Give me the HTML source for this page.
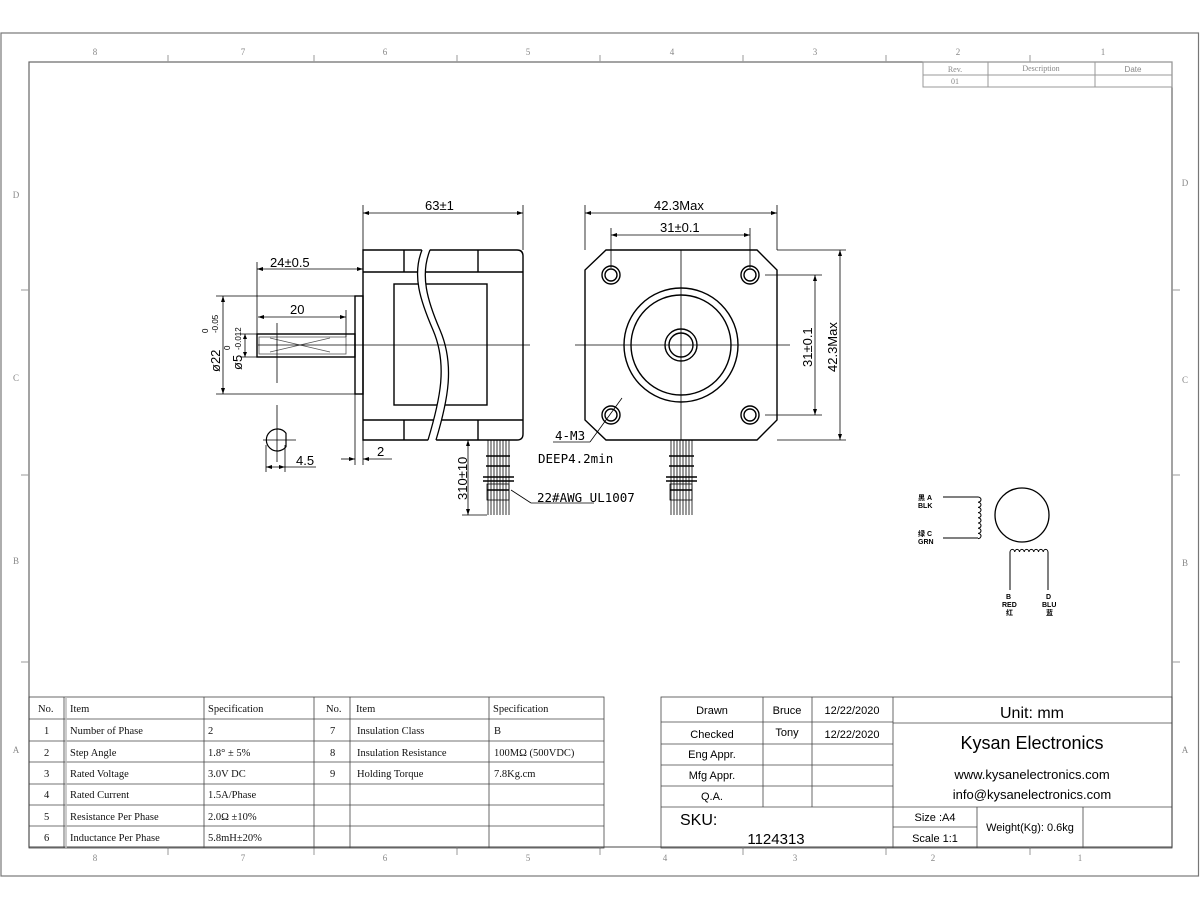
<!DOCTYPE html>
<html><head><meta charset="utf-8"><style>
html,body{margin:0;padding:0;background:#fff;}
svg{display:block;}
text{font-family:"Liberation Sans","Noto Sans CJK SC",sans-serif;}
.s text, text.s{font-family:"Liberation Serif","Noto Serif CJK SC",serif;}
.m text{font-family:"DejaVu Sans Mono","Liberation Mono",monospace;}
</style></head><body>
<svg width="1200" height="910" viewBox="0 0 1200 910" xmlns="http://www.w3.org/2000/svg">
<rect x="0" y="0" width="1200" height="910" fill="#fff"/>
<!-- frames -->
<rect x="1" y="33" width="1197.5" height="843" fill="none" stroke="#777" stroke-width="1.2"/>
<rect x="29" y="62" width="1143" height="785" fill="none" stroke="#666" stroke-width="1.2"/>
<g stroke="#999" stroke-width="1">
<line x1="168" y1="55" x2="168" y2="62"/><line x1="314" y1="55" x2="314" y2="62"/><line x1="457" y1="55" x2="457" y2="62"/><line x1="600" y1="55" x2="600" y2="62"/><line x1="743" y1="55" x2="743" y2="62"/><line x1="886" y1="55" x2="886" y2="62"/><line x1="1030" y1="55" x2="1030" y2="62"/>
<line x1="168" y1="847" x2="168" y2="855"/><line x1="314" y1="847" x2="314" y2="855"/><line x1="457" y1="847" x2="457" y2="855"/><line x1="600" y1="847" x2="600" y2="855"/><line x1="743" y1="847" x2="743" y2="855"/><line x1="886" y1="847" x2="886" y2="855"/><line x1="1030" y1="847" x2="1030" y2="855"/>
<line x1="21" y1="290" x2="29" y2="290"/><line x1="21" y1="475" x2="29" y2="475"/><line x1="21" y1="662" x2="29" y2="662"/>
<line x1="1172" y1="290" x2="1180" y2="290"/><line x1="1172" y1="475" x2="1180" y2="475"/><line x1="1172" y1="662" x2="1180" y2="662"/>
</g>
<g class="s" font-size="9" fill="#888" text-anchor="middle">
<text x="95" y="55">8</text><text x="243" y="55">7</text><text x="385" y="55">6</text><text x="528" y="55">5</text><text x="672" y="55">4</text><text x="815" y="55">3</text><text x="958" y="55">2</text><text x="1103" y="55">1</text>
<text x="95" y="861">8</text><text x="243" y="861">7</text><text x="385" y="861">6</text><text x="528" y="861">5</text><text x="665" y="861">4</text><text x="795" y="861">3</text><text x="933" y="861">2</text><text x="1080" y="861">1</text>
<text x="16" y="198">D</text><text x="16" y="381">C</text><text x="16" y="564">B</text><text x="16" y="753">A</text>
<text x="1185" y="186">D</text><text x="1185" y="383">C</text><text x="1185" y="566">B</text><text x="1185" y="753">A</text>
</g>
<!-- rev table -->
<g stroke="#999" stroke-width="1" fill="none">
<rect x="923" y="62" width="249" height="25"/><line x1="923" y1="75" x2="1172" y2="75"/>
<line x1="988" y1="62" x2="988" y2="87"/><line x1="1095" y1="62" x2="1095" y2="87"/>
</g>
<g font-size="8" fill="#888" text-anchor="middle"><text class="s" x="955" y="72">Rev.</text><text class="s" x="1041" y="71">Description</text><text x="1133" y="72">Date</text><text class="s" x="955" y="84">01</text></g>

<!-- SIDE VIEW -->
<g stroke="#000" stroke-width="1.4" fill="none">
<path d="M363 250 H517 Q523 250 523 256 V434 Q523 440 517 440 H363 Z"/>
<line x1="404" y1="250" x2="404" y2="272"/><line x1="404" y1="420" x2="404" y2="440"/>
<line x1="478" y1="250" x2="478" y2="272"/><line x1="478" y1="420" x2="478" y2="440"/>
<line x1="363" y1="272" x2="404" y2="272"/><line x1="478" y1="272" x2="523" y2="272"/>
<line x1="363" y1="420" x2="404" y2="420"/><line x1="478" y1="420" x2="523" y2="420"/>
<line x1="404" y1="272" x2="478" y2="272"/><line x1="404" y1="420" x2="478" y2="420"/>
<rect x="394" y="284" width="93" height="121"/>
<rect x="355" y="296" width="8" height="98"/>
<rect x="257" y="334" width="98" height="23"/>
</g>
<path d="M422 249 C412 275 420 300 433 330 C448 365 440 400 428 441 L436 441 C448 400 455 365 440 330 C427 300 420 275 430 249 Z" fill="#fff" stroke="none"/>
<g stroke="#000" stroke-width="1.3" fill="none">
<path d="M422 250 C412 275 420 300 433 330 C448 365 440 400 428 440"/>
<path d="M430 250 C420 275 427 300 440 330 C455 365 448 400 436 440"/>
</g>
<g stroke="#555" stroke-width="0.8" fill="none">
<rect x="259" y="337" width="87" height="17"/>
<path d="M270 338 L330 352 M270 352 L330 338"/>
</g>
<g stroke="#000" stroke-width="0.8" fill="none">
<line x1="258" y1="345" x2="530" y2="345"/>
<line x1="277" y1="323" x2="277" y2="383"/><line x1="277" y1="405" x2="277" y2="462"/>
<line x1="363" y1="205" x2="363" y2="250"/><line x1="523" y1="205" x2="523" y2="250"/>
<line x1="363" y1="213" x2="523" y2="213"/>
<line x1="257" y1="262" x2="257" y2="334"/><line x1="257" y1="269" x2="363" y2="269"/>
<line x1="258" y1="317" x2="346" y2="317"/><line x1="346" y1="310" x2="346" y2="337"/>
<line x1="216" y1="296" x2="355" y2="296"/><line x1="216" y1="394" x2="355" y2="394"/>
<line x1="223" y1="296" x2="223" y2="394"/>
<line x1="240" y1="334" x2="257" y2="334"/><line x1="240" y1="357" x2="257" y2="357"/>
<line x1="245" y1="334" x2="245" y2="357"/>
<line x1="355" y1="394" x2="355" y2="465"/><line x1="363" y1="440" x2="363" y2="465"/>
<line x1="341" y1="459" x2="355" y2="459"/><line x1="363" y1="459" x2="392" y2="459"/>
<line x1="263" y1="440" x2="296" y2="440"/>
<line x1="266" y1="445" x2="266" y2="472"/><line x1="285" y1="445" x2="285" y2="472"/>
<line x1="266" y1="467" x2="316" y2="467"/>
<line x1="462" y1="440" x2="487" y2="440"/><line x1="462" y1="515" x2="487" y2="515"/>
<line x1="468" y1="440" x2="468" y2="515"/>
</g>
<path d="M286 433.2 A11 11 0 1 0 286 446.8 Z" fill="none" stroke="#000" stroke-width="1.2"/>
<!-- leads side -->
<g stroke="#000" stroke-width="0.8">
<line x1="488" y1="440" x2="488" y2="515"/><line x1="491" y1="440" x2="491" y2="515"/>
<line x1="494" y1="440" x2="494" y2="515"/><line x1="497" y1="440" x2="497" y2="515"/>
<line x1="500" y1="440" x2="500" y2="515"/><line x1="503" y1="440" x2="503" y2="515"/>
<line x1="506" y1="440" x2="506" y2="515"/><line x1="509" y1="440" x2="509" y2="515"/>
<line x1="486" y1="456" x2="510" y2="456" stroke-width="1.5"/><line x1="486" y1="466" x2="510" y2="466" stroke-width="1.5"/>
<line x1="483" y1="477" x2="514" y2="477" stroke-width="1.5"/><line x1="483" y1="481" x2="514" y2="481" stroke-width="1.5"/>
<rect x="487" y="484" width="22" height="16" fill="none"/><line x1="487" y1="490" x2="509" y2="490" stroke-width="1.4"/>
<line x1="511" y1="490" x2="531" y2="503"/><line x1="531" y1="503" x2="594" y2="503"/>
</g>
<!-- FRONT VIEW -->
<g stroke="#000" stroke-width="1.4" fill="none">
<path d="M606 250 H757 L777 270 V420 L757 440 H606 L585 420 V270 Z"/>
<circle cx="681" cy="345" r="57"/><circle cx="681" cy="345" r="50"/>
<circle cx="681" cy="345" r="16"/><circle cx="681" cy="345" r="12"/>
<circle cx="611" cy="275" r="9"/><circle cx="611" cy="275" r="6"/>
<circle cx="750" cy="275" r="9"/><circle cx="750" cy="275" r="6"/>
<circle cx="611" cy="415" r="9"/><circle cx="611" cy="415" r="6"/>
<circle cx="750" cy="415" r="9"/><circle cx="750" cy="415" r="6"/>
</g>
<g stroke="#000" stroke-width="0.8" fill="none">
<line x1="681" y1="250" x2="681" y2="440"/><line x1="575" y1="345" x2="790" y2="345"/>
<line x1="585" y1="205" x2="585" y2="250"/><line x1="777" y1="205" x2="777" y2="250"/>
<line x1="585" y1="213" x2="777" y2="213"/>
<line x1="611" y1="228" x2="611" y2="268"/><line x1="750" y1="228" x2="750" y2="268"/>
<line x1="611" y1="235" x2="750" y2="235"/>
<line x1="765" y1="275" x2="822" y2="275"/><line x1="765" y1="415" x2="822" y2="415"/>
<line x1="815" y1="275" x2="815" y2="415"/>
<line x1="777" y1="250" x2="846" y2="250"/><line x1="777" y1="440" x2="846" y2="440"/>
<line x1="840" y1="250" x2="840" y2="440"/>
<line x1="622" y1="398" x2="590" y2="442"/><line x1="590" y1="442" x2="553" y2="442"/>
</g>
<g stroke="#000" stroke-width="0.8">
<line x1="671" y1="440" x2="671" y2="515"/><line x1="674" y1="440" x2="674" y2="515"/>
<line x1="677" y1="440" x2="677" y2="515"/><line x1="680" y1="440" x2="680" y2="515"/>
<line x1="683" y1="440" x2="683" y2="515"/><line x1="686" y1="440" x2="686" y2="515"/>
<line x1="689" y1="440" x2="689" y2="515"/><line x1="692" y1="440" x2="692" y2="515"/>
<line x1="669" y1="456" x2="694" y2="456" stroke-width="1.5"/><line x1="669" y1="466" x2="694" y2="466" stroke-width="1.5"/>
<line x1="666" y1="477" x2="697" y2="477" stroke-width="1.5"/><line x1="666" y1="481" x2="697" y2="481" stroke-width="1.5"/>
<rect x="670" y="484" width="22" height="16" fill="none"/><line x1="670" y1="490" x2="692" y2="490" stroke-width="1.4"/>
</g>
<!-- arrowheads (small) -->
<g fill="#000">
<path d="M363 213 l6 -2 v4z M523 213 l-6 -2 v4z M257 269 l6 -2 v4z M363 269 l-6 -2 v4z M258 317 l6 -2 v4z M346 317 l-6 -2 v4z"/>
<path d="M223 296 l-2 6 h4z M223 394 l-2 -6 h4z M245 334 l-2 5 h4z M245 357 l-2 -5 h4z"/>
<path d="M355 459 l-6 -2 v4z M363 459 l6 -2 v4z M266 467 l6 -2 v4z M285 467 l-6 -2 v4z"/>
<path d="M468 440 l-2 6 h4z M468 515 l-2 -6 h4z"/>
<path d="M585 213 l6 -2 v4z M777 213 l-6 -2 v4z M611 235 l6 -2 v4z M750 235 l-6 -2 v4z"/>
<path d="M815 275 l-2 6 h4z M815 415 l-2 -6 h4z M840 250 l-2 6 h4z M840 440 l-2 -6 h4z"/>
</g>
<!-- dimension texts -->
<g font-size="13" fill="#000">
<text x="425" y="210">63±1</text>
<text x="270" y="267">24±0.5</text>
<text x="290" y="314">20</text>
<text x="296" y="465">4.5</text>
<text x="377" y="456">2</text>
<text x="654" y="210">42.3Max</text>
<text x="660" y="232">31±0.1</text>
<text transform="translate(812 367) rotate(-90)">31±0.1</text>
<text transform="translate(837 372) rotate(-90)">42.3Max</text>
<text transform="translate(467 500) rotate(-90)">310±10</text>
<text transform="translate(220 372) rotate(-90)">ø22</text>
<text transform="translate(242 370) rotate(-90)">ø5</text>
</g>
<g font-size="8" fill="#000">
<text transform="translate(208 333) rotate(-90)">0</text>
<text transform="translate(218 333) rotate(-90)">-0.05</text>
<text transform="translate(230 350) rotate(-90)">0</text>
<text transform="translate(241 350) rotate(-90)">-0.012</text>
</g>
<g class="m" font-size="12.5" fill="#000">
<text x="555" y="440">4-M3</text>
<text x="538" y="463">DEEP4.2min</text>
<text x="537" y="502">22#AWG UL1007</text>
</g>
<!-- wiring diagram -->
<circle cx="1022" cy="515" r="27" fill="none" stroke="#000" stroke-width="1.3"/>
<g stroke="#000" stroke-width="1" fill="none">
<path d="M943 497 H978 M943 538 H978"/>
<path d="M978 497 a3 2.6 0 0 1 0 5.2 a3 2.6 0 0 1 0 5.2 a3 2.6 0 0 1 0 5.2 a3 2.6 0 0 1 0 5.2 a3 2.6 0 0 1 0 5.2 a3 2.6 0 0 1 0 5.2 a3 2.6 0 0 1 0 5.2 a3 2.6 0 0 1 0 5.2"/>
<path d="M1010 590 V552 a2.4 3 0 0 1 4.75 0 a2.4 3 0 0 1 4.75 0 a2.4 3 0 0 1 4.75 0 a2.4 3 0 0 1 4.75 0 a2.4 3 0 0 1 4.75 0 a2.4 3 0 0 1 4.75 0 a2.4 3 0 0 1 4.75 0 a2.4 3 0 0 1 4.75 0 V590"/>
</g>
<g font-size="7" font-weight="bold" fill="#000">
<text x="918" y="500">黑 A</text><text x="918" y="508">BLK</text>
<text x="918" y="536">绿 C</text><text x="918" y="544">GRN</text>
<text x="1006" y="599">B</text><text x="1002" y="607">RED</text><text x="1006" y="615">红</text>
<text x="1046" y="599">D</text><text x="1042" y="607">BLU</text><text x="1046" y="615">蓝</text>
</g>
<!-- left spec table -->
<g stroke="#444" stroke-width="0.8" fill="none">
<rect x="29" y="697" width="575" height="151"/>
<line x1="29" y1="719" x2="604" y2="719"/><line x1="29" y1="741" x2="604" y2="741"/>
<line x1="29" y1="762" x2="604" y2="762"/><line x1="29" y1="784" x2="604" y2="784"/>
<line x1="29" y1="805" x2="604" y2="805"/><line x1="29" y1="826" x2="604" y2="826"/>
<line x1="64" y1="697" x2="64" y2="848"/><line x1="204" y1="697" x2="204" y2="848"/>
<line x1="314" y1="697" x2="314" y2="848"/><line x1="350" y1="697" x2="350" y2="848"/>
<line x1="489" y1="697" x2="489" y2="848"/>
</g>
<line x1="66" y1="697" x2="66" y2="848" stroke="#bbb" stroke-width="1.5"/>
<g class="s" font-size="10.5" fill="#111">
<text x="38" y="712">No.</text><text x="70" y="712">Item</text><text x="208" y="712">Specification</text>
<text x="326" y="712">No.</text><text x="356" y="712">Item</text><text x="493" y="712">Specification</text>
<text x="44" y="734">1</text><text x="70" y="734">Number of Phase</text><text x="208" y="734">2</text>
<text x="330" y="734">7</text><text x="357" y="734">Insulation Class</text><text x="494" y="734">B</text>
<text x="44" y="756">2</text><text x="70" y="756">Step Angle</text><text x="208" y="756">1.8° ± 5%</text>
<text x="330" y="756">8</text><text x="357" y="756">Insulation Resistance</text><text x="494" y="756">100MΩ (500VDC)</text>
<text x="44" y="777">3</text><text x="70" y="777">Rated Voltage</text><text x="208" y="777">3.0V DC</text>
<text x="330" y="777">9</text><text x="357" y="777">Holding Torque</text><text x="494" y="777">7.8Kg.cm</text>
<text x="44" y="798">4</text><text x="70" y="798">Rated Current</text><text x="208" y="798">1.5A/Phase</text>
<text x="44" y="820">5</text><text x="70" y="820">Resistance Per Phase</text><text x="208" y="820">2.0Ω ±10%</text>
<text x="44" y="841">6</text><text x="70" y="841">Inductance Per Phase</text><text x="208" y="841">5.8mH±20%</text>
</g>
<!-- title block -->
<g stroke="#444" stroke-width="0.8" fill="none">
<rect x="661" y="697" width="511" height="151"/>
<line x1="661" y1="722" x2="893" y2="722"/><line x1="893" y1="723" x2="1172" y2="723"/>
<line x1="661" y1="744" x2="893" y2="744"/><line x1="661" y1="765" x2="893" y2="765"/>
<line x1="661" y1="786" x2="893" y2="786"/><line x1="661" y1="807" x2="1172" y2="807"/>
<line x1="763" y1="697" x2="763" y2="807"/><line x1="812" y1="697" x2="812" y2="807"/>
<line x1="893" y1="697" x2="893" y2="848"/><line x1="977" y1="807" x2="977" y2="848"/>
<line x1="1083" y1="807" x2="1083" y2="848"/><line x1="893" y1="827" x2="977" y2="827"/>
</g>
<g font-size="11" fill="#000" text-anchor="middle">
<text x="712" y="714">Drawn</text><text x="787" y="714">Bruce</text><text x="852" y="714">12/22/2020</text>
<text x="712" y="738">Checked</text><text x="787" y="736">Tony</text><text x="852" y="738">12/22/2020</text>
<text x="712" y="758">Eng Appr.</text><text x="712" y="779">Mfg Appr.</text><text x="712" y="800">Q.A.</text>
<text x="1032" y="718" font-size="16">Unit: mm</text>
<text x="1032" y="749" font-size="18">Kysan Electronics</text>
<text x="1032" y="779" font-size="13">www.kysanelectronics.com</text>
<text x="1032" y="799" font-size="13">info@kysanelectronics.com</text>
<text x="935" y="821">Size :A4</text><text x="935" y="842">Scale 1:1</text>
<text x="1030" y="831">Weight(Kg): 0.6kg</text>
<text x="776" y="844" font-size="15">1124313</text>
</g>
<text x="680" y="825" font-size="16" fill="#000">SKU:</text>
</svg>
</body></html>
